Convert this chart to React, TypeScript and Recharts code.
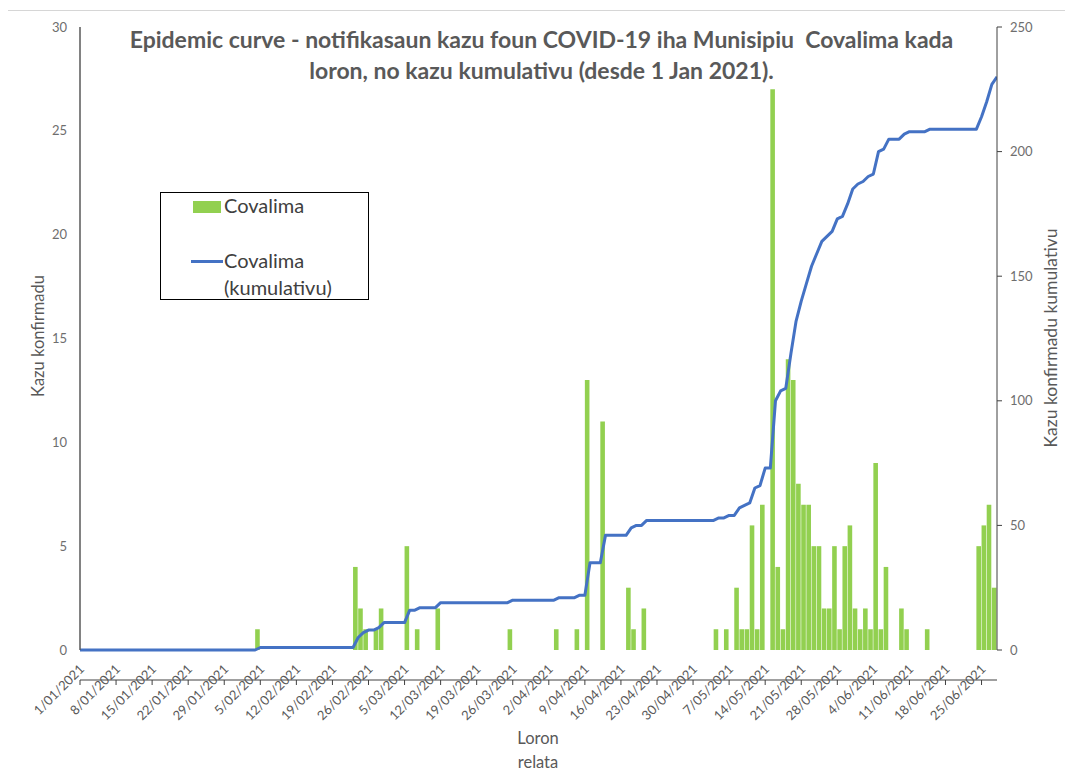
import { ComposedChart, Bar, Line, XAxis, YAxis, Legend } from "recharts";

// daily new cases, index = days since 1 Jan 2021 (one row per week)
const cases = [
  0, 0, 0, 0, 0, 0, 0,
  0, 0, 0, 0, 0, 0, 0,
  0, 0, 0, 0, 0, 0, 0,
  0, 0, 0, 0, 0, 0, 0,
  0, 0, 0, 0, 0, 0, 0,
  1, 0, 0, 0, 0, 0, 0,
  0, 0, 0, 0, 0, 0, 0,
  0, 0, 0, 0, 0, 4, 2,
  1, 0, 1, 2, 0, 0, 0,
  0, 5, 0, 1, 0, 0, 0,
  2, 0, 0, 0, 0, 0, 0,
  0, 0, 0, 0, 0, 0, 0,
  1, 0, 0, 0, 0, 0, 0,
  0, 0, 1, 0, 0, 0, 1,
  0, 13, 0, 0, 11, 0, 0,
  0, 0, 3, 1, 0, 2, 0,
  0, 0, 0, 0, 0, 0, 0,
  0, 0, 0, 0, 0, 1, 0,
  1, 0, 3, 1, 1, 6, 1,
  7, 0, 27, 4, 1, 14, 13,
  8, 7, 7, 5, 5, 2, 2,
  5, 1, 5, 6, 2, 1, 2,
  1, 9, 1, 4, 0, 0, 2,
  1, 0, 0, 0, 1, 0, 0,
  0, 0, 0, 0, 0, 0, 0,
  5, 6, 7, 3,
];

// cumulative cases
const cumulative = [
  0, 0, 0, 0, 0, 0, 0,
  0, 0, 0, 0, 0, 0, 0,
  0, 0, 0, 0, 0, 0, 0,
  0, 0, 0, 0, 0, 0, 0,
  0, 0, 0, 0, 0, 0, 0,
  1, 1, 1, 1, 1, 1, 1,
  1, 1, 1, 1, 1, 1, 1,
  1, 1, 1, 1, 1, 5, 7,
  8, 8, 9, 11, 11, 11, 11,
  11, 16, 16, 17, 17, 17, 17,
  19, 19, 19, 19, 19, 19, 19,
  19, 19, 19, 19, 19, 19, 19,
  20, 20, 20, 20, 20, 20, 20,
  20, 20, 21, 21, 21, 21, 22,
  22, 35, 35, 35, 46, 46, 46,
  46, 46, 49, 50, 50, 52, 52,
  52, 52, 52, 52, 52, 52, 52,
  52, 52, 52, 52, 52, 53, 53,
  54, 54, 57, 58, 59, 65, 66,
  73, 73, 100, 104, 105, 119, 132,
  140, 147, 154, 159, 164, 166, 168,
  173, 174, 179, 185, 187, 188, 190,
  191, 200, 201, 205, 205, 205, 207,
  208, 208, 208, 208, 209, 209, 209,
  209, 209, 209, 209, 209, 209, 209,
  214, 220, 227, 230,
];

const tickDays = [0, 7, 14, 21, 28, 35, 42, 49, 56, 63, 70, 77, 84, 91, 98, 105, 112, 119, 126, 133, 140, 147, 154, 161, 168, 175];
const tickLabels = [
  "1/01/2021", "8/01/2021", "15/01/2021", "22/01/2021", "29/01/2021", "5/02/2021", "12/02/2021",
  "19/02/2021", "26/02/2021", "5/03/2021", "12/03/2021", "19/03/2021", "26/03/2021", "2/04/2021",
  "9/04/2021", "16/04/2021", "23/04/2021", "30/04/2021", "7/05/2021", "14/05/2021", "21/05/2021",
  "28/05/2021", "4/06/2021", "11/06/2021", "18/06/2021", "25/06/2021",
];
const leftTicks = [0, 5, 10, 15, 20, 25, 30];
const rightTicks = [0, 50, 100, 150, 200, 250];

const data = cases.map((c, i) => ({ day: i, cases: c, cum: cumulative[i] }));

const FONT = "Lato, 'Open Sans', sans-serif";
const GREY = "#595959";
const PLOT_BOTTOM = 650;

function DateTick(props: any) {
  const { x, payload } = props;
  const label = tickLabels[tickDays.indexOf(payload.value)];
  const ax = x + 5;
  const ay = PLOT_BOTTOM + 20;
  return (
    <text x={ax} y={ay} transform={`rotate(-45, ${ax}, ${ay})`} textAnchor="end"
      fontSize={13} fill={GREY} fontFamily={FONT}>
      {label}
    </text>
  );
}

function LegendBox() {
  return (
    <div style={{ width: 207, height: 106, border: "1px solid #000", background: "#fff", position: "relative", fontFamily: FONT, color: "#404040", fontSize: 20 }}>
      <div style={{ position: "absolute", left: 32, top: 8, width: 28, height: 12, background: "#92d050" }} />
      <div style={{ position: "absolute", left: 63, top: -1, lineHeight: "26px" }}>Covalima</div>
      <div style={{ position: "absolute", left: 30, top: 67, width: 32, height: 3, background: "#4472c4" }} />
      <div style={{ position: "absolute", left: 63, top: 54, lineHeight: "27px" }}>Covalima<br />(kumulativu)</div>
    </div>
  );
}

export default function App() {
  return (
    <div style={{ position: "relative", width: 1073, height: 782, margin: -8, background: "#fff", overflow: "hidden" }}>
      <div style={{ position: "absolute", left: 0, top: 0, width: 6, height: 782, background: "#dce7f4" }} />
      <div style={{ position: "absolute", left: 6, top: 10, right: 0, height: 1, background: "#d6d6d6" }} />

      <ComposedChart width={1073} height={782} data={data} margin={{ top: 27, right: 0, bottom: 0, left: 0 }}>
        <XAxis xAxisId="line" dataKey="day" type="number" domain={[0, 178]} allowDataOverflow
          ticks={tickDays} interval={0} tick={<DateTick />} height={132}
          stroke="#404040" tickSize={5} tickLine={{ stroke: "#404040" }} />
        <XAxis xAxisId="bar" dataKey="day" type="number" domain={[0.5, 178.5]} allowDataOverflow hide />
        <YAxis yAxisId="left" domain={[0, 30]} ticks={leftTicks} interval={0} width={80}
          stroke="#595959" strokeWidth={1.5} tickLine={false} tickSize={5} tickMargin={8}
          tick={{ fill: "#6e6e6e", fontSize: 13, fontFamily: FONT }} />
        <YAxis yAxisId="right" orientation="right" domain={[0, 250]} ticks={rightTicks} interval={0} width={76}
          stroke="#404040" tickSize={5} tickMargin={8}
          tick={{ fill: "#6e6e6e", fontSize: 13, fontFamily: FONT, textAnchor: "start" }} />
        <Legend layout="horizontal" verticalAlign="middle" align="center" content={<LegendBox />}
          wrapperStyle={{ position: "absolute", left: 160, top: 192, width: 209, height: 108 }} />
        <Bar xAxisId="bar" yAxisId="left" dataKey="cases" name="Covalima" fill="#92d050" barSize={4.6} isAnimationActive={false} />
        <Line xAxisId="line" yAxisId="right" dataKey="cum" name="Covalima (kumulativu)" type="linear"
          stroke="#4472c4" strokeWidth={3} dot={false} activeDot={false} strokeLinejoin="round" isAnimationActive={false} />
      </ComposedChart>

      <div style={{ position: "absolute", left: 0, width: 1083, top: 24, textAlign: "center", fontFamily: FONT, fontWeight: 700, fontSize: 23, color: GREY, lineHeight: "31px" }}>
        Epidemic curve - notifikasaun kazu foun COVID-19 iha Munisipiu&nbsp; Covalima kada<br />
        loron, no kazu kumulativu (desde 1 Jan 2021).
      </div>
      <div style={{ position: "absolute", left: 38, top: 336, transform: "translate(-50%, -50%) rotate(-90deg)", whiteSpace: "nowrap", fontFamily: FONT, fontSize: 16.5, color: GREY }}>
        Kazu konfirmadu
      </div>
      <div style={{ position: "absolute", left: 1050, top: 338, transform: "translate(-50%, -50%) rotate(-90deg)", whiteSpace: "nowrap", fontFamily: FONT, fontSize: 17.5, color: GREY }}>
        Kazu konfirmadu kumulativu
      </div>
      <div style={{ position: "absolute", left: 488, width: 100, top: 726, textAlign: "center", fontFamily: FONT, fontSize: 16.5, color: GREY, lineHeight: "24px" }}>
        Loron<br />relata
      </div>
    </div>
  );
}
